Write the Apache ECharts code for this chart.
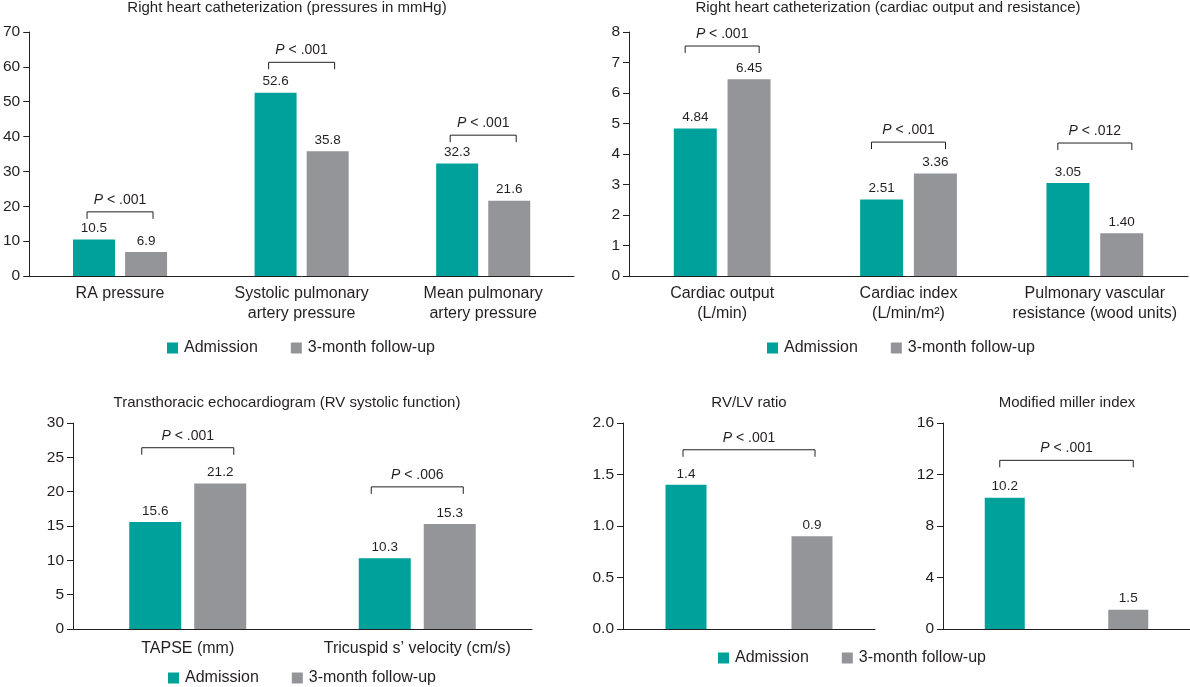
<!DOCTYPE html>
<html>
<head>
<meta charset="utf-8">
<script src="https://cdn.jsdelivr.net/npm/echarts@6/dist/echarts.min.js"></script>
<style>
html,body{margin:0;padding:0;background:#fff;}
#chart{width:1190px;height:687px;}
</style>
</head>
<body>
<div id="chart"></div>
<script>
// ---------- DATA ----------
const seriesNames = ['Admission', '3-month follow-up'];

const p1Title = 'Right heart catheterization (pressures in mmHg)';
const p1Categories = ['RA pressure', 'Systolic pulmonary\nartery pressure', 'Mean pulmonary\nartery pressure'];
const p1Admission = [10.5, 52.6, 32.3];
const p1FollowUp = [6.9, 35.8, 21.6];
const p1PValues = ['.001', '.001', '.001'];
const p1BracketLevel = [18.4, 61.3, 40.4];
const p1Ticks = [0, 10, 20, 30, 40, 50, 60, 70];

const p2Title = 'Right heart catheterization (cardiac output and resistance)';
const p2Categories = ['Cardiac output\n(L/min)', 'Cardiac index\n(L/min/m\u00B2)', 'Pulmonary vascular\nresistance (wood units)'];
const p2Admission = [4.84, 2.51, 3.05];
const p2FollowUp = [6.45, 3.36, 1.40];
const p2PValues = ['.001', '.001', '.012'];
const p2BracketLevel = [7.54, 4.39, 4.36];
const p2Ticks = [0, 1, 2, 3, 4, 5, 6, 7, 8];

const p3Title = 'Transthoracic echocardiogram (RV systolic function)';
const p3Categories = ['TAPSE (mm)', 'Tricuspid s\u2019 velocity (cm/s)'];
const p3Admission = [15.6, 10.3];
const p3FollowUp = [21.2, 15.3];
const p3PValues = ['.001', '.006'];
const p3BracketLevel = [26.4, 20.7];
const p3Ticks = [0, 5, 10, 15, 20, 25, 30];

const p4Title = 'RV/LV ratio';
const p4Admission = 1.4;
const p4FollowUp = 0.9;
const p4PValue = '.001';
const p4BracketLevel = 1.74;
const p4Ticks = [0, 0.5, 1.0, 1.5, 2.0];

const p5Title = 'Modified miller index';
const p5Admission = 10.2;
const p5FollowUp = 1.5;
const p5PValue = '.001';
const p5BracketLevel = 13.1;
const p5Ticks = [0, 4, 8, 12, 16];

// ---------- STYLE ----------
const FONT = '"Liberation Sans", Arial, Helvetica, sans-serif';
const INK = '#231f20';
const TEAL = '#00a19b';
const GRAY = '#939598';

const chart = echarts.init(document.getElementById('chart'), null, {renderer: 'canvas'});

function yAxis(gi, ticks, decimals) {
  return {
    type: 'value', gridIndex: gi,
    min: ticks[0], max: ticks[ticks.length - 1], interval: ticks[1] - ticks[0],
    axisLine: {show: true, lineStyle: {color: INK, width: 1}},
    axisTick: {show: true, length: 6, lineStyle: {color: INK}},
    splitLine: {show: false},
    axisLabel: {color: INK, fontSize: 15.5, fontFamily: FONT, margin: 9,
      formatter: v => decimals ? v.toFixed(decimals) : String(v)}
  };
}
function xAxis(gi, cats, showLabels, margin) {
  return {
    type: 'category', gridIndex: gi, data: cats,
    axisLine: {show: true, lineStyle: {color: INK, width: 1}},
    axisTick: {show: false},
    axisLabel: {show: showLabels, color: INK, fontSize: 16, fontFamily: FONT, lineHeight: 20, margin: margin, interval: 0}
  };
}
function bars(name, data, gi, color, barW, gap, decimals) {
  return {
    type: 'bar', name: name, xAxisIndex: gi, yAxisIndex: gi, data: data,
    barWidth: barW, barGap: gap, itemStyle: {color: color},
    label: {show: true, position: 'top', distance: 4, color: INK, fontSize: 13.5, fontFamily: FONT,
      formatter: p => Number(p.value).toFixed(decimals)},
    emphasis: {disabled: true}
  };
}
function pText(pv) { return '{i|P} < ' + pv; }
function bracketEls(xl, xr, y, pv) {
  return {
    type: 'group',
    children: [
      {type: 'polyline', shape: {points: [[xl, y + 7], [xl, y], [xr, y], [xr, y + 7]]},
        style: {stroke: INK, lineWidth: 1, fill: null}},
      {type: 'text', x: (xl + xr) / 2, y: y - 12,
        style: {text: pText(pv), fill: INK, fontSize: 14, fontFamily: FONT, align: 'center', verticalAlign: 'middle',
          rich: {i: {fontStyle: 'italic', fontSize: 14, fontFamily: FONT, fill: INK}}}}
    ]
  };
}
function groupBrackets(gi, levels, pvs, half) {
  return {
    type: 'custom', xAxisIndex: gi, yAxisIndex: gi, silent: true, z: 10,
    data: levels.map((l, i) => [i, l]),
    renderItem: (params, api) => {
      const pt = api.coord([api.value(0), api.value(1)]);
      return bracketEls(pt[0] - half, pt[0] + half, pt[1], pvs[params.dataIndex]);
    }
  };
}
function pairBracket(gi, level, pv, extra) {
  return {
    type: 'custom', xAxisIndex: gi, yAxisIndex: gi, silent: true, z: 10,
    data: [[0, level]],
    renderItem: (params, api) => {
      const a = api.coord([0, api.value(1)]);
      const b = api.coord([1, api.value(1)]);
      return bracketEls(a[0] - extra, b[0] + extra, a[1], pv);
    }
  };
}
function legend(left, top) {
  return {
    data: seriesNames, left: left, top: top, icon: 'rect', itemWidth: 11, itemHeight: 11, itemGap: 33,
    selectedMode: false, padding: 0,
    textStyle: {color: INK, fontSize: 16, fontFamily: FONT, padding: [0, 0, 0, 1]}
  };
}
function title(text, cx, top) {
  return {text: text, left: cx, top: top, textAlign: 'center', padding: 0,
    textStyle: {color: INK, fontSize: 15, fontWeight: 'normal', fontFamily: FONT}};
}

const p4Cats = seriesNames.slice();
const option = {
  animation: false,
  backgroundColor: '#fff',
  title: [
    title(p1Title, 287, 0),
    title(p2Title, 888, 0),
    title(p3Title, 287, 395),
    title(p4Title, 749, 395),
    title(p5Title, 1067, 395)
  ],
  legend: [legend(167, 340), legend(767, 340), legend(168, 670), legend(718, 650)],
  grid: [
    {left: 28, top: 32, width: 546, height: 244},
    {left: 629, top: 32, width: 559, height: 244},
    {left: 73, top: 423, width: 459, height: 206},
    {left: 623, top: 423, width: 252, height: 206},
    {left: 943, top: 423, width: 247, height: 206}
  ],
  xAxis: [
    xAxis(0, p1Categories, true, 8),
    xAxis(1, p2Categories, true, 8),
    xAxis(2, p3Categories, true, 10),
    xAxis(3, p4Cats, false, 8),
    xAxis(4, p4Cats, false, 8)
  ],
  yAxis: [
    yAxis(0, p1Ticks, 0),
    yAxis(1, p2Ticks, 0),
    yAxis(2, p3Ticks, 0),
    yAxis(3, p4Ticks, 1),
    yAxis(4, p5Ticks, 0)
  ],
  series: [
    bars(seriesNames[0], p1Admission, 0, TEAL, 42, '24%', 1),
    bars(seriesNames[1], p1FollowUp, 0, GRAY, 42, '24%', 1),
    groupBrackets(0, p1BracketLevel, p1PValues, 33),

    bars(seriesNames[0], p2Admission, 1, TEAL, 43, '25%', 2),
    bars(seriesNames[1], p2FollowUp, 1, GRAY, 43, '25%', 2),
    groupBrackets(1, p2BracketLevel, p2PValues, 37),

    bars(seriesNames[0], p3Admission, 2, TEAL, 52, '25%', 1),
    bars(seriesNames[1], p3FollowUp, 2, GRAY, 52, '25%', 1),
    groupBrackets(2, p3BracketLevel, p3PValues, 46),

    bars(seriesNames[0], [p4Admission, '-'], 3, TEAL, 41, '-100%', 1),
    bars(seriesNames[1], ['-', p4FollowUp], 3, GRAY, 41, '-100%', 1),
    pairBracket(3, p4BracketLevel, p4PValue, 3),

    bars(seriesNames[0], [p5Admission, '-'], 4, TEAL, 40, '-100%', 1),
    bars(seriesNames[1], ['-', p5FollowUp], 4, GRAY, 40, '-100%', 1),
    pairBracket(4, p5BracketLevel, p5PValue, 5)
  ]
};
chart.setOption(option);
</script>
</body>
</html>
